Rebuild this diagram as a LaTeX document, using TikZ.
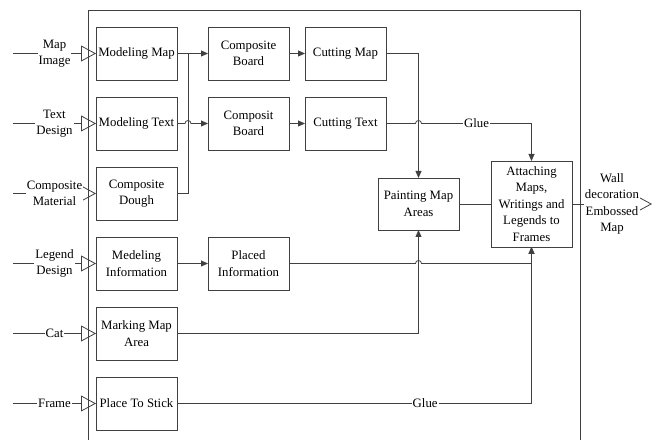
\documentclass[tikz,border=0pt]{standalone}
\usepackage{fontspec}
\setmainfont{Liberation Serif}
\usetikzlibrary{arrows.meta,positioning,calc}

\begin{document}
\begin{tikzpicture}[x=1pt, y=1pt, inner sep=1pt, outer sep=0pt,
  font=\fontsize{12.8}{16.5}\selectfont, line width=0.8pt,
  >={Triangle[length=7pt,width=6pt]},
  proc/.style={draw=black!75, minimum width=81pt, minimum height=53pt, align=center},
  flow/.style={draw=black!75, ->},
  line/.style={draw=black!75},
  feed/.style={draw=black!75, -{Triangle[open,length=15pt,width=16pt]}},
  lbl/.style={fill=white, align=center, inner sep=1pt}]
\useasboundingbox (0,0) rectangle (661,439);
\draw[black!75] (88,-5) -- (88,429) -- (580,429) -- (580,-5);

% first column
\node[proc] (MMap) at (136.5,385.5) {Modeling Map};
\node[proc] (MText) [below = 17pt of MMap] {Modeling Text};
\node[proc] (CDough) [below = 17pt of MText] {Composite\\Dough};
\node[proc] (MInfo) [below = 17pt of CDough] {Medeling\\Information};
\node[proc] (MArea) [below = 17pt of MInfo] {Marking Map\\Area};
\node[proc] (PStick) [below = 17pt of MArea] {Place To Stick};
% second and third column
\node[proc] (CBoard) [right = 31pt of MMap] {Composite\\Board};
\node[proc] (CMap) [right = 16pt of CBoard] {Cutting Map};
\node[proc] (CBoardT) [right = 31pt of MText] {Composit\\Board};
\node[proc] (CText) [right = 16pt of CBoardT] {Cutting Text};
\node[proc] (PInfo) [right = 31pt of MInfo] {Placed\\Information};
\node[proc, minimum height=52pt] (Paint) at (418.5,235) {Painting Map\\Areas};
\node[proc, minimum height=86pt] (Attach) [right = 32pt of Paint] {Attaching\\Maps,\\Writings and\\Legends to\\Frames};

% inputs and output
\coordinate[left = 83pt of MMap] (inMap);
\coordinate[left = 83pt of MText] (inText);
\coordinate[left = 83pt of CDough] (inComp);
\coordinate[left = 83pt of MInfo] (inLegend);
\coordinate[left = 83pt of MArea] (inCat);
\coordinate[left = 83pt of PStick] (inFrame);
\coordinate[right = 80pt of Attach] (outMap);
\draw[feed] (inMap) -- node[lbl] {Map\\Image} (MMap.west);
\draw[feed] (inText) -- node[lbl] {Text\\Design} (MText.west);
\draw[feed] (inComp) -- node[lbl] {Composite\\Material} (CDough.west);
\draw[feed] (inLegend) -- node[lbl] {Legend\\Design} (MInfo.west);
\draw[feed] (inCat) -- node[lbl] {Cat} (MArea.west);
\draw[feed] (inFrame) -- node[lbl] {Frame} (PStick.west);
\draw[feed] (Attach.east) -- node[lbl] {Wall\\decoration\\Embossed\\Map} (outMap);

% connectors
\coordinate (J1) at ($(MMap.east)+(11pt,0)$);
\draw[flow] (MMap.east) -- (CBoard.west);
\draw[line] (CDough.east) -| (J1);
\draw[flow] (MText.east) -- ($(MText.east -| J1)+(-3pt,0)$)
  arc[start angle=180, end angle=0, radius=3pt] -- (CBoardT.west);
\draw[flow] (CBoard.east) -- (CMap.west);
\draw[flow] (CBoardT.east) -- (CText.west);
\draw[flow] (MInfo.east) -- (PInfo.west);
\draw[flow] (CMap.east) -| (Paint.north);
\draw[flow] (CText.east) -- ($(CText.east -| Paint.north)+(-3pt,0)$)
  arc[start angle=180, end angle=0, radius=3pt]
  -- node[lbl] {Glue} (CText.east -| Attach.north) -- (Attach.north);
\draw[line] (Paint.east) -- (Attach.west);
\draw[flow] (PInfo.east) -- ($(PInfo.east -| Paint.south)+(-3pt,0)$)
  arc[start angle=180, end angle=0, radius=3pt]
  -- (PInfo.east -| Attach.south) -- (Attach.south);
\draw[flow] (MArea.east) -| (Paint.south);
\draw[flow] (PStick.east) -- node[lbl, pos=0.7] {Glue} (PStick.east -| Attach.south) -- (Attach.south);
\end{tikzpicture}
\end{document}
